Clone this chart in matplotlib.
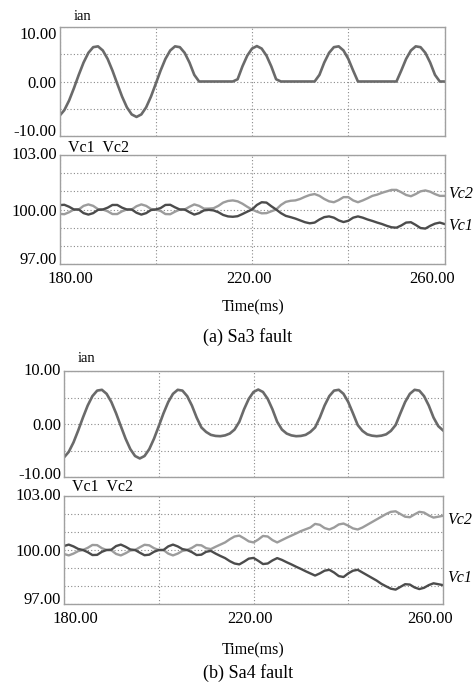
import matplotlib
matplotlib.use('Agg')
import matplotlib.pyplot as plt
import matplotlib.transforms as mtransforms

plt.rcParams['font.family'] = ['Liberation Serif', 'DejaVu Serif']

# time axis (ms), one sample per ms
t = list(range(180, 261))

# phase current ian, (a) Sa3 fault and (b) Sa4 fault
ian_a = [-6.30, -5.26, -3.48, -1.22, 1.22, 3.48, 5.26, 6.30, 6.45, 5.69,
         4.14, 2.01, -0.41, -2.77, -4.74, -6.04, -6.50, -6.04, -4.74, -2.77,
         -0.41, 2.01, 4.14, 5.69, 6.45, 6.30, 5.26, 3.48, 1.22, 0.00,
         0.00, 0.00, 0.00, 0.00, 0.00, 0.00, 0.00, 0.41, 2.77, 4.74,
         6.04, 6.50, 6.04, 4.74, 2.77, 0.41, 0.00, 0.00, 0.00, 0.00,
         0.00, 0.00, 0.00, 0.00, 1.22, 3.48, 5.26, 6.30, 6.45, 5.69,
         4.14, 2.01, 0.00, 0.00, 0.00, 0.00, 0.00, 0.00, 0.00, 0.00,
         0.00, 2.01, 4.14, 5.69, 6.45, 6.30, 5.26, 3.48, 1.22, 0.00,
         0.00]
ian_b = [-6.30, -5.26, -3.48, -1.22, 1.22, 3.48, 5.26, 6.30, 6.45, 5.69,
         4.14, 2.01, -0.41, -2.77, -4.74, -6.04, -6.50, -6.04, -4.74, -2.77,
         -0.41, 2.01, 4.14, 5.69, 6.45, 6.30, 5.26, 3.48, 1.22, -0.65,
         -1.50, -2.05, -2.25, -2.30, -2.15, -1.80, -1.05, 0.41, 2.77, 4.74,
         6.04, 6.50, 6.04, 4.74, 2.77, 0.41, -1.05, -1.80, -2.15, -2.30,
         -2.25, -2.05, -1.50, -0.65, 1.22, 3.48, 5.26, 6.30, 6.45, 5.69,
         4.14, 2.01, -0.20, -1.30, -1.95, -2.20, -2.30, -2.20, -1.95, -1.30,
         -0.20, 2.01, 4.14, 5.69, 6.45, 6.30, 5.26, 3.48, 1.22, -0.40,
         -1.20]

# capacitor voltages
vc1_a = [100.24, 100.26, 100.15, 100.00, 100.00, 99.80, 99.72, 99.80, 99.98, 100.00,
         100.10, 100.25, 100.25, 100.10, 100.00, 100.00, 99.82, 99.72, 99.80, 99.97,
         100.00, 100.08, 100.25, 100.26, 100.12, 100.00, 100.00, 99.85, 99.72, 99.80,
         99.95, 99.98, 99.95, 99.85, 99.70, 99.62, 99.60, 99.63, 99.75, 99.88,
         100.00, 100.25, 100.40, 100.38, 100.18, 100.00, 99.80, 99.65, 99.58, 99.50,
         99.40, 99.30, 99.24, 99.28, 99.45, 99.58, 99.62, 99.55, 99.40, 99.31,
         99.38, 99.55, 99.62, 99.55, 99.45, 99.37, 99.28, 99.20, 99.10, 99.02,
         99.00, 99.12, 99.28, 99.30, 99.15, 98.98, 98.95, 99.10, 99.22, 99.28,
         99.20]
vc2_a = [99.76, 99.74, 99.85, 100.00, 100.00, 100.20, 100.28, 100.20, 100.02, 100.00,
         99.90, 99.75, 99.75, 99.90, 100.00, 100.00, 100.18, 100.28, 100.20, 100.03,
         100.00, 99.92, 99.75, 99.74, 99.88, 100.00, 100.00, 100.15, 100.28, 100.20,
         100.05, 100.05, 100.07, 100.20, 100.38, 100.47, 100.50, 100.45, 100.32, 100.15,
         100.00, 99.88, 99.79, 99.80, 99.90, 100.00, 100.25, 100.42, 100.48, 100.50,
         100.58, 100.70, 100.80, 100.85, 100.75, 100.58, 100.45, 100.40, 100.52, 100.68,
         100.68, 100.50, 100.40, 100.50, 100.62, 100.75, 100.82, 100.92, 101.00, 101.08,
         101.08, 100.95, 100.80, 100.73, 100.85, 101.00, 101.05, 100.98, 100.85, 100.75,
         100.75]
vc1_b = [100.22, 100.30, 100.20, 100.06, 100.00, 99.88, 99.72, 99.73, 99.90, 100.00,
         100.02, 100.22, 100.30, 100.18, 100.03, 100.00, 99.85, 99.71, 99.74, 99.90,
         100.00, 100.00, 100.20, 100.30, 100.20, 100.05, 100.00, 99.88, 99.72, 99.74,
         99.90, 99.95, 99.80, 99.67, 99.55, 99.38, 99.25, 99.20, 99.35, 99.52,
         99.56, 99.40, 99.22, 99.25, 99.42, 99.55, 99.45, 99.32, 99.20, 99.07,
         98.95, 98.82, 98.70, 98.58, 98.70, 98.85, 98.90, 98.75, 98.55, 98.50,
         98.70, 98.85, 98.90, 98.75, 98.60, 98.45, 98.30, 98.12, 97.98, 97.85,
         97.80, 97.95, 98.10, 98.08, 97.92, 97.83, 97.90, 98.05, 98.15, 98.10,
         98.05]
vc2_b = [99.78, 99.70, 99.80, 99.94, 100.00, 100.12, 100.28, 100.27, 100.10, 100.00,
         99.98, 99.78, 99.70, 99.82, 99.97, 100.00, 100.15, 100.29, 100.26, 100.10,
         100.00, 100.00, 99.80, 99.70, 99.80, 99.95, 100.00, 100.12, 100.28, 100.26,
         100.10, 100.05, 100.18, 100.30, 100.42, 100.60, 100.75, 100.80, 100.65, 100.48,
         100.42, 100.58, 100.78, 100.75, 100.55, 100.42, 100.55, 100.68, 100.80, 100.92,
         101.05, 101.15, 101.25, 101.45, 101.40, 101.22, 101.14, 101.25, 101.42, 101.47,
         101.35, 101.20, 101.14, 101.25, 101.40, 101.55, 101.70, 101.85, 102.00, 102.12,
         102.15, 102.00, 101.85, 101.82, 101.98, 102.12, 102.08, 101.92, 101.80, 101.85,
         101.90]

# ticks / labels
x_ticks = [180, 200, 220, 240, 260]
x_labels = ['180.00', '', '220.00', '', '260.00']
i_ticks = [-10, -5, 0, 5, 10]
i_labels = ['-10.00', '', '0.00', '', '10.00']
v_ticks = [97, 98, 99, 100, 101, 102, 103]
v_labels = ['97.00', '', '', '100.00', '', '', '103.00']
captions = ['(a) Sa3 fault', '(b) Sa4 fault']

W, H = 475, 690
fig = plt.figure(figsize=(W / 100, H / 100), dpi=100)
fs = 12


def px(x, y):
    return x / W, 1 - y / H


def style(ax, yt, yl, ylim, top_va, bottom_dy, show_x):
    ax.set_xlim(180, 260)
    ax.set_ylim(*ylim)
    ax.set_yticks(yt, yl)
    ax.set_xticks(x_ticks, x_labels if show_x else [''] * 5)
    ax.grid(True, color='#8a8a8a', linestyle=(0, (1, 2)), linewidth=0.8)
    ax.tick_params(length=0, labelsize=fs, pad=2)
    ax.tick_params(axis='x', pad=5)
    for s in ax.spines.values():
        s.set_color('#a0a0a0')
        s.set_linewidth(1.0)
    labs = ax.get_yticklabels()
    labs[-1].set_va(top_va)
    labs[0].set_transform(labs[0].get_transform() +
                          mtransforms.ScaledTranslation(0, bottom_dy / 100, fig.dpi_scale_trans))
    if show_x:
        xl = ax.get_xticklabels()
        for lab, dx in zip(xl, [11, 0, -3, 0, -13]):
            lab.set_transform(lab.get_transform() +
                              mtransforms.ScaledTranslation(dx / 100, 0, fig.dpi_scale_trans))


panels = [
    # left, right, ian top/bottom, vc top/bottom (pixels)
    (59.5, 444.6, 27, 136, 155, 264, ian_a, vc1_a, vc2_a, 'top', 6, 194, 226, 307, 337, 148, 16),
    (64, 443, 371, 477, 496, 604, ian_b, vc1_b, vc2_b, 'center', 4, 520, 578, 650, 673, 487, 358),
]

for k, (l, r, it, ib, vt, vb, ian, vc1, vc2, tva, bdy, y_v2, y_v1, y_time, y_cap, y_vlab, y_ilab) in enumerate(panels):
    ax1 = fig.add_axes([l / W, 1 - ib / H, (r - l) / W, (ib - it) / H])
    ax1.plot(t, ian, color='#6a6a6a', linewidth=1.9)
    style(ax1, i_ticks, i_labels, (-10, 10), tva, bdy, False)

    ax2 = fig.add_axes([l / W, 1 - vb / H, (r - l) / W, (vb - vt) / H])
    ax2.plot(t, vc2, color='#9c9c9c', linewidth=1.7)
    ax2.plot(t, vc1, color='#4c4c4c', linewidth=1.7)
    style(ax2, v_ticks, v_labels, (97, 103), 'center', 6, True)

    fig.text(*px(l + 14, y_ilab), 'ian', fontsize=10.5, va='center', ha='left')
    fig.text(*px(l + 8, y_vlab), 'Vc1  Vc2', fontsize=11.5, va='center', ha='left')
    fig.text(*px(r + 4, y_v2), 'Vc2', fontsize=11.5, style='italic', va='center', ha='left')
    fig.text(*px(r + 4, y_v1), 'Vc1', fontsize=11.5, style='italic', va='center', ha='left')
    fig.text(*px(253, y_time), 'Time(ms)', fontsize=11.5, va='center', ha='center')
    fig.text(*px(248, y_cap), captions[k], fontsize=13, va='center', ha='center')

fig.savefig('out.png', dpi=100, facecolor='white')
